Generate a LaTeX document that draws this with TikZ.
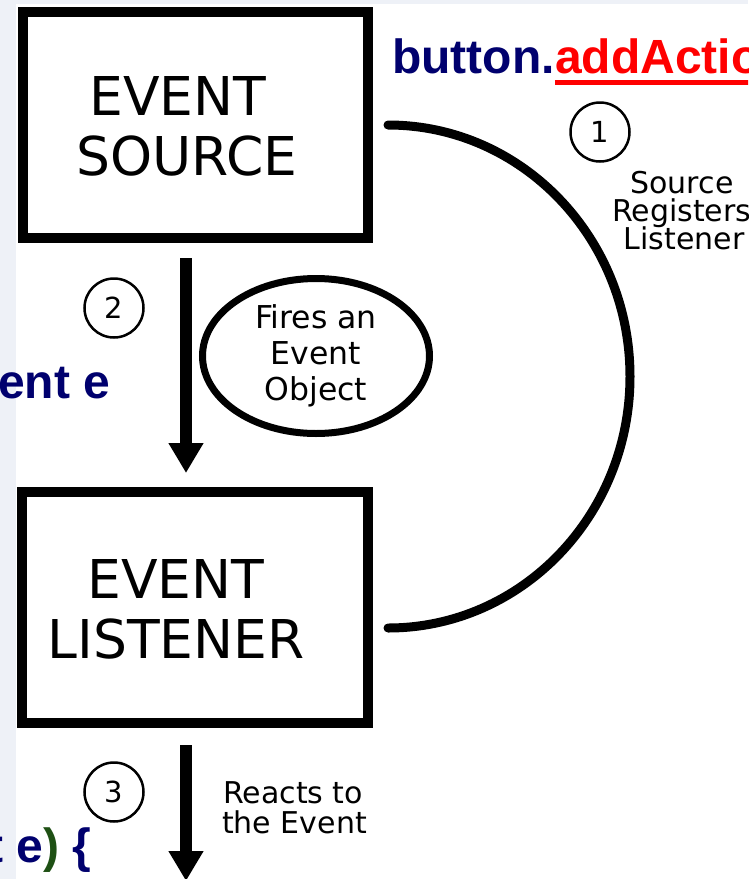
\documentclass[tikz,border=0pt]{standalone}
\usepackage{fontspec}
\setmainfont{DejaVu Sans}
\newfontfamily\codefont{Liberation Sans}
\usetikzlibrary{shapes.geometric,arrows.meta}
\definecolor{navy}{RGB}{0,0,110}
\definecolor{codered}{RGB}{255,0,0}
\definecolor{codegreen}{RGB}{30,80,20}
\definecolor{panel}{RGB}{238,241,247}
\tikzset{
  box/.style={draw, rectangle, line width=10pt, inner sep=0pt, fill=white},
  boxtext/.style={font=\fontsize{53.5}{60}\selectfont, anchor=base, inner sep=0pt},
  num/.style={draw, circle, line width=2.5pt, minimum size=59pt, inner sep=0pt, font=\fontsize{29}{29}\selectfont},
  lbl/.style={font=\fontsize{30}{30}\selectfont, inner sep=0pt},
  bigarrow/.style={line width=12pt, -{Triangle[width=33pt,length=30pt]}},
  code/.style={font=\fontsize{48}{48}\codefont\bfseries\selectfont, text=navy, inner sep=0pt, anchor=base west},
}
\begin{document}
\begin{tikzpicture}[x=1pt,y=1pt]
\useasboundingbox (0,0) rectangle (748,-879);
\clip (0,0) rectangle (748,-879);
\fill[panel] (0,0) rectangle (748,-879);
\fill[white] (16,-4) rectangle (748,-879);

% boxes
\node[box, minimum width=345pt, minimum height=226pt] (src) at (195.5,-125) {};
\node[box, minimum width=346pt, minimum height=231pt] (lst) at (195,-607.5) {};
\node[boxtext] (srcA) at (178,-115) {EVENT};
\node[boxtext] (srcB) at (187,-175) {SOURCE};
\node[boxtext] (lstA) at (176,-598) {EVENT};
\node[boxtext] (lstB) at (176,-658) {LISTENER};

% registration arc
\coordinate (arcA) at (388,-125);
\draw[line width=9pt, line cap=round] (arcA) arc[start angle=90, end angle=-90, x radius=242, y radius=251.5];

% arrows
\draw[bigarrow] ([xshift=-9.5pt,yshift=-15pt]src.south) -- ([xshift=-9pt,yshift=14pt]lst.north);
\coordinate (sink) at (186,-881);
\draw[bigarrow] ([xshift=-9pt,yshift=-17pt]lst.south) -- (sink);

% numbered circles
\node[num] (n1) at (600,-132) {1};
\node[num] (n2) at (114,-308) {2};
\node[num] (n3) at (114,-792) {3};

% ellipse
\node[draw, ellipse, line width=7pt, minimum width=227pt, minimum height=155pt, inner sep=0pt,
      align=center, font=\fontsize{31.5}{36}\selectfont] (fire) at (316,-356) {Fires an\\Event\\Object};

% side labels
\node[lbl, anchor=base] (s1) at (682,-193) {Source};
\node[lbl, anchor=base west] (s2) at (612,-221) {Registers};
\node[lbl, anchor=base] (s3) at (684,-249) {Listener};
\node[lbl, anchor=base west] (r1) at (223,-803) {Reacts to};
\node[lbl, anchor=base west] (r2) at (222,-833) {the Event};

% code fragments
\node[code] (btn) at (392,-73) {button.};
\node[code, text=codered] (act) at (btn.base east) {addActio};
\draw[codered, line width=4.5pt] ([yshift=-9.5pt]act.base west) -- ([yshift=-9.5pt]act.base east);
\node[code] (evt) at (-2,-398) {ent e};
\node[code] (hdr) at (-13,-862) {t e\textcolor{codegreen}{)} \{};
\end{tikzpicture}
\end{document}
